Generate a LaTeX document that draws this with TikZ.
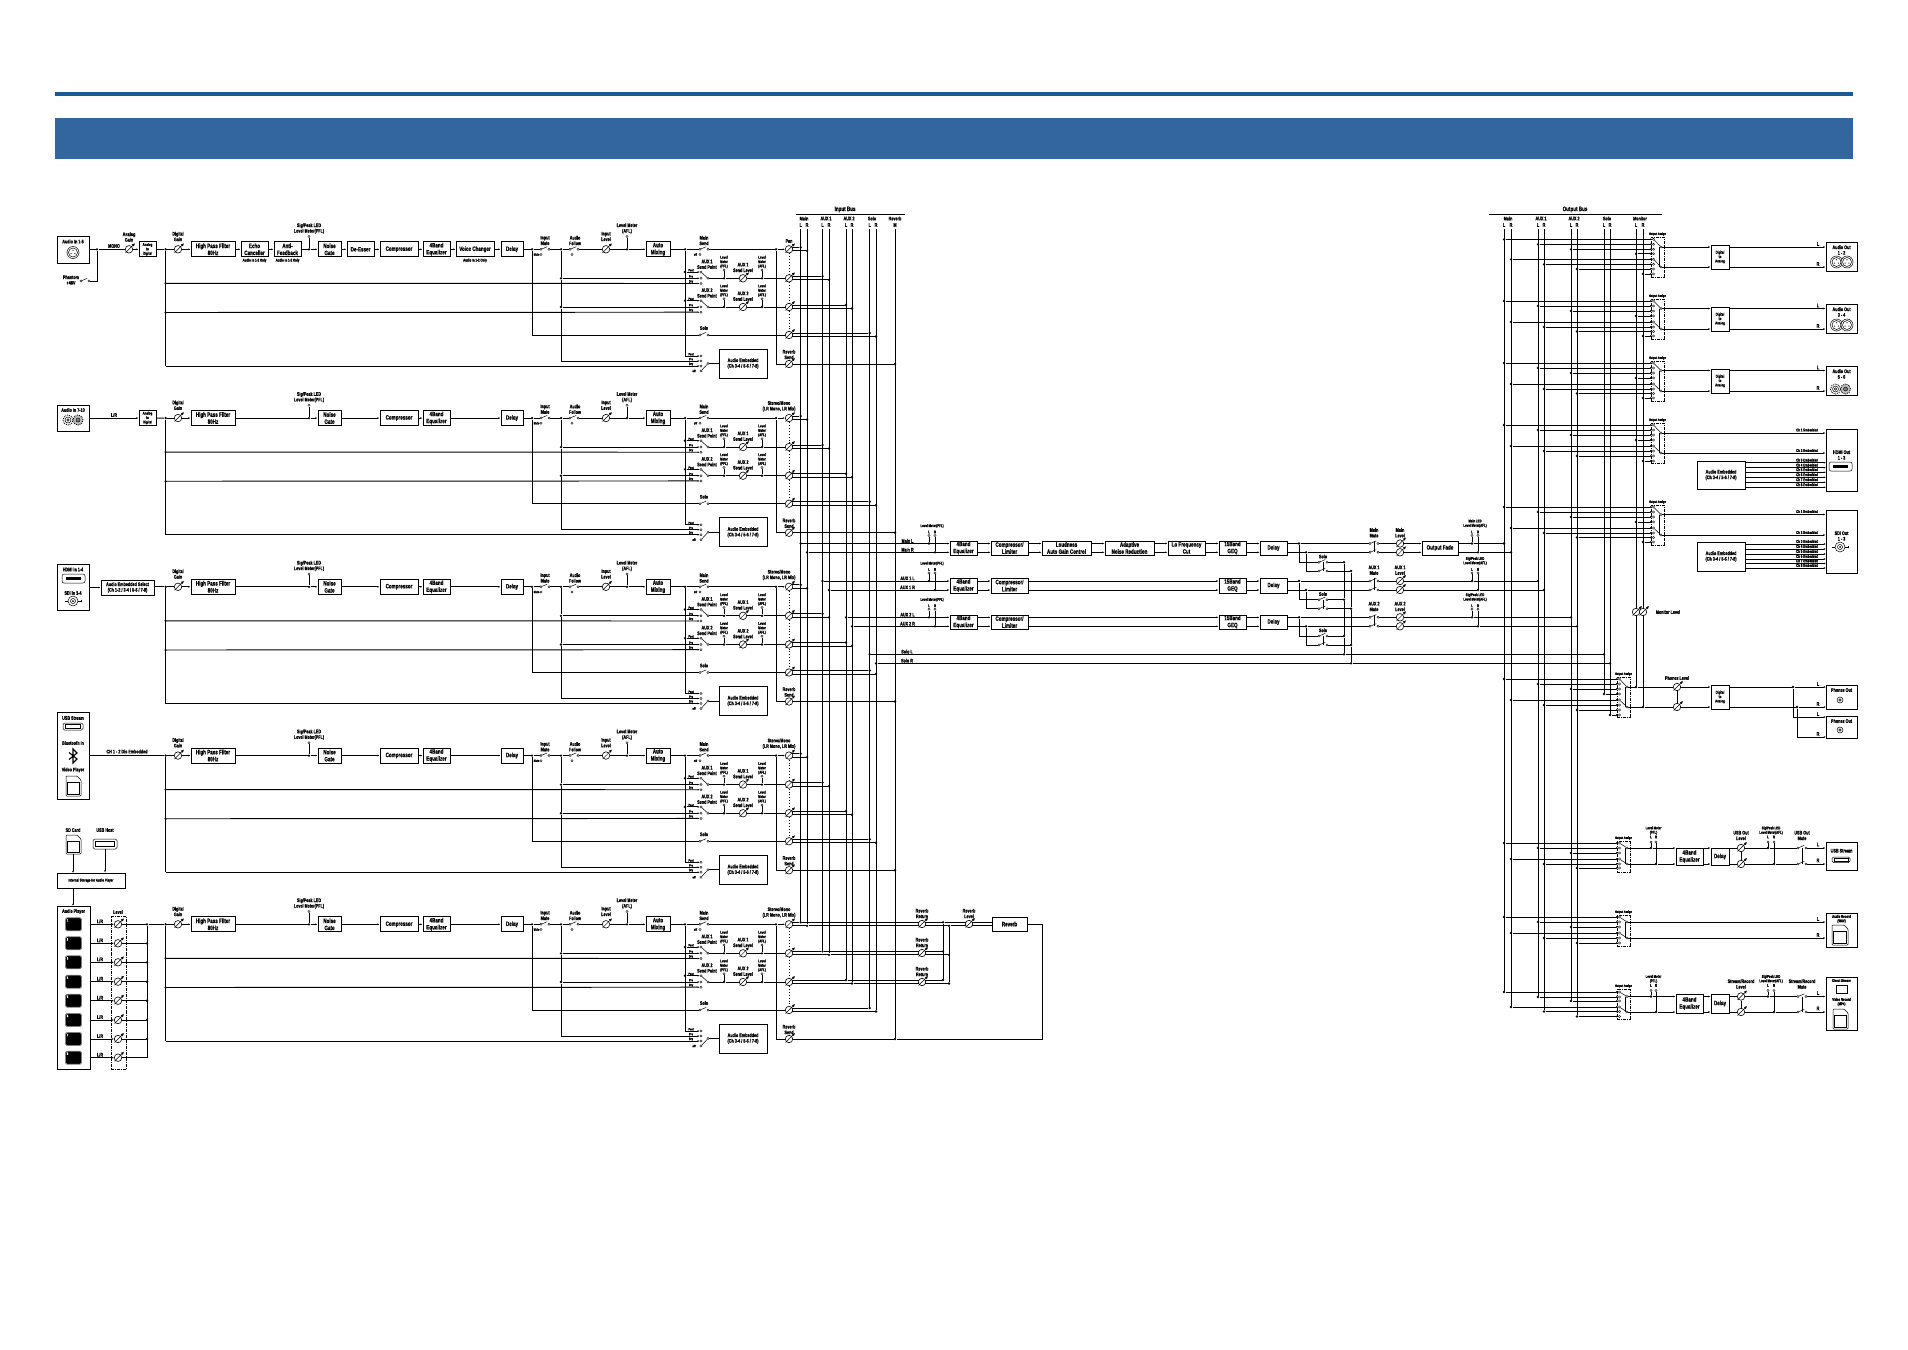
\documentclass[tikz,border=0pt]{standalone}
\usepackage{fontspec}
\setmainfont{Liberation Sans Bold}[FakeStretch=0.72,FakeBold=0.8]
\usetikzlibrary{arrows.meta}
\definecolor{hdrband}{HTML}{33659E}
\definecolor{hdrline}{HTML}{1B5A94}
\newcount\labn
\def\fa{\fontsize{5.2}{5.6}\selectfont}
\def\fb{\fontsize{6.3}{7}\selectfont}
\def\fc{\fontsize{4}{4.4}\selectfont}
\def\fd{\fontsize{3.4}{3.7}\selectfont}
\tikzset{
 wire/.style={line width=.95pt},
 thinw/.style={line width=.5pt},
 arw/.style={wire,-{Latex[length=2.2pt,width=1.8pt]}},
 box/.style={draw,line width=.95pt,fill=white,inner sep=0pt,align=center,font=\fb},
 txt/.style={inner sep=0pt,align=center,font=\fa},
 jdot/.style={circle,fill=black,inner sep=0pt,minimum size=2.6pt},
 term/.style={circle,draw,line width=.4pt,fill=white,inner sep=0pt,minimum size=2.2pt},
 knobc/.style={circle,draw,line width=.6pt,fill=white,inner sep=0pt,minimum size=7.5pt},
 ring/.style={circle,draw,line width=.5pt,fill=white,inner sep=0pt},
 assignbox/.style={draw,line width=.8pt,densely dashdotted,inner sep=0pt},
}
\newcommand\lab[3]{\global\advance\labn by 1 \node[txt] (lab\the\labn) at (#1,#2) {#3};}
\newcommand\labf[4]{\global\advance\labn by 1 \node[txt,font=#1] (lab\the\labn) at (#2,#3) {#4};}
\newcommand\bx[6]{\node[box,minimum width={(#4-#2)*1pt},minimum height={(#5-#3)*1pt}] (#1) at ({(#2+#4)/2},{(#3+#5)/2}) {#6};}
\newcommand\bxf[7]{\node[box,font=#1,minimum width={(#5-#3)*1pt},minimum height={(#6-#4)*1pt}] (#2) at ({(#3+#5)/2},{(#4+#6)/2}) {#7};}
\newcommand\jd[3]{\node[jdot] (#1) at (#2,#3) {};}
\newcommand\tm[3]{\node[term] (#1) at (#2,#3) {};}
\newcommand\knob[3]{\node[knobc] (#1) at (#2,#3) {};
 \draw[line width=.45pt,-{Latex[length=3pt,width=2.8pt]}] ([shift={(-3.4,3.4)}]#1.center) -- ([shift={(6,-6)}]#1.center);}
\newcommand\swt[3]{\tm{#1-l}{#2-4}{#3}\tm{#1-r}{#2+4}{#3}
 \draw[thinw] (#1-l) -- ++(6.2,-2.6);}
\newcommand\meter[4]{\tm{#1}{#2}{#4}\draw[thinw] (#3) -- (#1);}
% --- aux send row of an input strip
\newcommand\auxrow[5]{%
 \pgfmathsetmacro\ya{#3-6.3}\pgfmathsetmacro\yc{#3+5.2}
 \pgfmathsetmacro\yt{#3-8.3}\pgfmathsetmacro\ysp{#3-14}\pgfmathsetmacro\ylm{#3-16.3}\pgfmathsetmacro\ysl{#3-10.8}
 \pgfmathsetmacro\yap{\ya-1.8}\pgfmathsetmacro\ybp{#3-1.8}\pgfmathsetmacro\ycp{\yc-1.8}
 \jd{#1q#2}{685}{\ya}\jd{#1r#2}{561}{#3}
 \tm{#1ta#2}{701}{\ya}\tm{#1tb#2}{701}{#3}\tm{#1tc#2}{701}{\yc}\tm{#1s#2}{708}{#3}
 \draw[thinw] (#1ta#2) -- (#1s#2);
 \draw[arw] (#1q#2) -- (#1ta#2); \draw[arw] (#1r#2) -- (#1tb#2); \draw[arw] (#4) -- (#1tc#2);
 \labf{\fd}{691}{\yap}{Post}\labf{\fd}{691}{\ybp}{Pre}\labf{\fd}{691}{\ycp}{Dry}
 \lab{707}{\ysp}{#5\\Send Point}
 \jd{#1u#2}{724}{#3}\knob{#1v#2}{743}{#3}\jd{#1w#2}{762}{#3}\knob{#1y#2}{789}{#3}
 \draw[wire] (#1s#2) -- (#1u#2) -- (#1v#2) -- (#1w#2) -- (#1y#2);
 \meter{#1mu#2}{724}{#1u#2}{\yt}\meter{#1mw#2}{762}{#1w#2}{\yt}
 \labf{\fc}{724}{\ylm}{Level\\Meter\\(PFL)}\labf{\fc}{762}{\ylm}{Level\\Meter\\(AFL)}
 \lab{743}{\ysl}{#5\\Send Level}
}
\newcommand\busout[5]{%
 \pgfmathsetmacro\yl{#3-2}\pgfmathsetmacro\yr{#3+1.5}
 \jd{#1bL#2}{#4}{\yl}\jd{#1bR#2}{#5}{\yr}
 \coordinate (#1kL#2) at (792,\yl); \coordinate (#1kR#2) at (792,\yr);
 \draw[wire] (#1kL#2) -- (#1bL#2); \draw[wire] (#1kR#2) -- (#1bR#2);
}
% --- input channel strip
\newcommand\strip[3]{%
\begin{scope}[yshift={-168.75pt*#2}]
 \jd{#1a}{165.7}{249.3}\jd{#1b}{165.7}{283.3}\jd{#1c}{165.7}{312.5}\coordinate (#1d) at (165.7,366);
 \draw[wire] (#1a) -- (#1d);
 \knob{#1dg}{178}{249.3}\lab{178}{236.5}{Digital\\Gain}
 \bx{#1hpf}{191}{241.8}{235}{256.8}{High Pass Filter\\80Hz}
 \draw[wire] (#1a) -- (#1dg); \draw[arw] (#1dg) -- (#1hpf);
 \jd{#1fb}{309}{249.3}\meter{#1fbm}{309}{#1fb}{236.5}\lab{309}{228.5}{Sig/Peak LED\\Level Meter(PFL)}
 \bx{#1gate}{318}{241.8}{341}{256.8}{Noise\\Gate}
 \bx{#1comp}{380}{241.8}{418}{256.8}{Compressor}
 \bx{#1eq}{423}{241.8}{450}{256.8}{4Band\\Equalizer}
 \bx{#1delay}{501}{241.8}{523}{256.8}{Delay}
 \ifnum#3=1
  \bx{#1echo}{241}{241.8}{268}{256.8}{Echo\\Canceller}\bx{#1afb}{274}{241.8}{301}{256.8}{Anti-\\Feedback}
  \bx{#1dees}{347}{241.8}{374}{256.8}{De-Esser}\bx{#1vc}{456}{241.8}{494}{256.8}{Voice Changer}
  \labf{\fc}{254.5}{260.5}{Audio In 1-2 Only}\labf{\fc}{287.5}{260.5}{Audio In 1-2 Only}\labf{\fc}{475}{260.5}{Audio In 1-2 Only}
  \draw[arw] (#1hpf) -- (#1echo); \draw[arw] (#1echo) -- (#1afb); \draw[wire] (#1afb) -- (#1fb); \draw[arw] (#1fb) -- (#1gate);
  \draw[arw] (#1gate) -- (#1dees); \draw[arw] (#1dees) -- (#1comp); \draw[arw] (#1comp) -- (#1eq); \draw[arw] (#1eq) -- (#1vc); \draw[arw] (#1vc) -- (#1delay);
  \lab{789}{241}{Pan}
 \else
  \draw[wire] (#1hpf) -- (#1fb); \draw[arw] (#1fb) -- (#1gate); \draw[arw] (#1gate) -- (#1comp); \draw[arw] (#1comp) -- (#1eq); \draw[arw] (#1eq) -- (#1delay);
  \lab{779}{237.5}{Stereo/Mono\\(LR Mono, LR Mix)}
 \fi
 \jd{#1m}{532}{249.3}\swt{#1im}{545}{249.3}\jd{#1n}{561}{249.3}\swt{#1fo}{574}{249.3}
 \knob{#1il}{606}{249.3}\jd{#1lm}{627}{249.3}\bx{#1am}{646}{241.8}{670}{256.8}{Auto\\Mixing}
 \jd{#1o}{685}{249.3}\swt{#1ms}{704}{249.3}\jd{#1p}{776}{249.3}\knob{#1pan}{789}{249.3}
 \draw[wire] (#1delay) -- (#1m) -- (#1im-l); \draw[wire] (#1im-r) -- (#1n) -- (#1fo-l);
 \draw[wire] (#1fo-r) -- (#1il) -- (#1lm); \draw[arw] (#1lm) -- (#1am);
 \draw[wire] (#1am) -- (#1o) -- (#1ms-l); \draw[wire] (#1ms-r) -- (#1p); \draw[arw] (#1p) -- (#1pan);
 \lab{545}{240.5}{Input\\Mute}\lab{575}{240.5}{Audio\\Follow}\lab{606}{236.5}{Input\\Level}
 \meter{#1lmt}{627}{#1lm}{236.5}\lab{627}{228.5}{Level Meter\\(AFL)}\lab{704}{240.5}{Main\\Send}
 \tm{#1imo}{541}{254.5}\labf{\fd}{536.5}{254.5}{Mute}\tm{#1foo}{572}{254.5}\tm{#1mso}{700}{254.5}\labf{\fd}{695.5}{254.5}{off}
 \auxrow{#1}{1}{278.3}{#1b}{AUX 1}
 \auxrow{#1}{2}{307}{#1c}{AUX 2}
 \busout{#1}{0}{249.3}{800.7}{807}
 \busout{#1}{1}{278.3}{822.5}{829}
 \busout{#1}{2}{307}{846}{852}
 \swt{#1so}{704}{335}\knob{#1y3}{789}{335}\lab{704}{328}{Solo}
 \busout{#1}{3}{335}{869.7}{876}
 \draw[wire] (#1m) |- (#1so-l); \draw[wire] (#1so-r) -- (#1y3);
 \draw[line width=.9pt,dotted] (#1pan) -- (#1y1) -- (#1y2) -- (#1y3);
 \draw[wire] (#1n) -- (#1r1) -- (#1r2);
 \draw[wire] (#1o) -- (#1q1) -- (#1q2);
 % audio embedded row
 \bxf{\fa}{#1ae}{719}{349}{767}{378}{Audio Embedded\\(Ch 3-4 / 5-6 / 7-8)}
 \tm{#1ea}{701}{356}\tm{#1eb}{701}{361}\tm{#1ec}{701}{366}\tm{#1ed}{701}{371}\tm{#1es}{708}{363.5}
 \draw[thinw] (#1ed) -- (#1es); \draw[wire] (#1es) -- (#1ae);
 \draw[arw] (#1o) |- (#1ea); \draw[arw] (#1r2) |- (#1eb); \draw[arw] (#1d) -- (#1ec);
 \labf{\fd}{691}{354.2}{Post}\labf{\fd}{691}{359.2}{Pre}\labf{\fd}{691}{364.2}{Dry}\labf{\fd}{694}{371}{off}
 % reverb send
 \knob{#1rs}{789}{364}\jd{#1rb}{895}{364}\lab{789}{354.5}{Reverb\\Send}
 \draw[wire] (#1p) |- (#1rs); \draw[wire] (#1rs) -- (#1rb);
\end{scope}}
% --- horizontal stereo wires between boxes
\newcommand\lrw[3]{\draw[arw] (#1.east |- 0,#3) -- (#2.west |- 0,#3);}
% --- output section row
\newcommand\midrow[9]{%
 \pgfmathsetmacro\ytp{#2-8}\pgfmathsetmacro\ylr{#2-11.5}\pgfmathsetmacro\yml{#2-17.5}
 \pgfmathsetmacro\ysa{#2+18.7}\pgfmathsetmacro\ysb{#3+18.7}\pgfmathsetmacro\ysl{#2+13}
 \pgfmathsetmacro\yb{#2-10.8}\pgfmathsetmacro\yna{#2-2.6}\pgfmathsetmacro\ynb{#3-2.6}
 \jd{#1sL}{#6}{#2}\jd{#1sR}{#7}{#3}
 \lab{907.5}{\yna}{#9 L}\lab{907.5}{\ynb}{#9 R}
 \jd{#1mL}{929}{#2}\jd{#1mR}{935}{#3}
 \meter{#1mtL}{929}{#1mL}{\ytp}\meter{#1mtR}{935}{#1mR}{\ytp}
 \labf{\fc}{929}{\ylr}{L}\labf{\fc}{935}{\ylr}{R}\labf{\fc}{932}{\yml}{Level Meter(PFL)}
 \bx{#1eq}{950}{#4}{977}{#5}{4Band\\Equalizer}\bx{#1co}{991}{#4}{1028}{#5}{Compressor/\\Limiter}
 \bx{#1ge}{1219}{#4}{1246}{#5}{15Band\\GEQ}\bx{#1dl}{1260}{#4}{1287}{#5}{Delay}
 \draw[arw] (#1sL) -- (#1eq.west |- 0,#2); \draw[arw] (#1sR) -- (#1eq.west |- 0,#3);
 \lrw{#1eq}{#1co}{#2}\lrw{#1eq}{#1co}{#3}\lrw{#1ge}{#1dl}{#2}\lrw{#1ge}{#1dl}{#3}
 \ifx#8x\lrw{#1co}{#1ge}{#2}\lrw{#1co}{#1ge}{#3}\else
  \bx{#1ld}{1042}{#4}{1091}{#5}{Loudness\\Auto Gain Control}\bx{#1nr}{1105}{#4}{1154}{#5}{Adaptive\\Noise Reduction}\bx{#1lf}{1168}{#4}{1205}{#5}{Lo Frequency\\Cut}
  \lrw{#1co}{#1ld}{#2}\lrw{#1co}{#1ld}{#3}\lrw{#1ld}{#1nr}{#2}\lrw{#1ld}{#1nr}{#3}\lrw{#1nr}{#1lf}{#2}\lrw{#1nr}{#1lf}{#3}\lrw{#1lf}{#1ge}{#2}\lrw{#1lf}{#1ge}{#3}
 \fi
 \jd{#1jL}{1299}{#2}\jd{#1jR}{1306}{#3}
 \swt{#1muL}{1374}{#2}\swt{#1muR}{1374}{#3}\draw[thinw] (1374,\yna) -- (1374,#3);
 \knob{#1kL}{1400}{#2}\knob{#1kR}{1400}{#3}
 \draw[wire] (#1dl.east |- 0,#2) -- (#1jL) -- (#1muL-l); \draw[wire] (#1dl.east |- 0,#3) -- (#1jR) -- (#1muR-l);
 \draw[wire] (#1muL-r) -- (#1kL); \draw[wire] (#1muR-r) -- (#1kR);
 \lab{1374}{\yb}{#9\\Mute}\lab{1400}{\yb}{#9\\Level}
 \lab{1323}{\ysl}{Solo}
 \swt{#1saL}{1323}{\ysa}\swt{#1saR}{1323}{\ysb}\draw[thinw] (1323,\ysa) -- (1323,\ysb);
 \jd{#1vL}{1344}{\ysa}\jd{#1vR}{1351}{\ysb}
 \draw[wire] (#1jL) |- (#1saL-l); \draw[wire] (#1jR) |- (#1saR-l);
 \draw[wire] (#1saL-r) -- (#1vL); \draw[wire] (#1saR-r) -- (#1vR);
}
\newcommand\metout[9]{%
 \pgfmathsetmacro\ytp{#2-8}\pgfmathsetmacro\ylr{#2-11.5}\pgfmathsetmacro\yml{#2-20}
 \jd{#1aL}{1472}{#2}\jd{#1aR}{1478}{#3}\jd{#1oL}{#4}{#2}\jd{#1oR}{#5}{#3}
 \meter{#1atL}{1472}{#1aL}{\ytp}\meter{#1atR}{1478}{#1aR}{\ytp}
 \labf{\fc}{1472}{\ylr}{L}\labf{\fc}{1478}{\ylr}{R}
 \labf{\fc}{1475}{\yml}{#6\\Level Meter(AFL)}
 \draw[wire] (#7) -- (#1aL) -- (#1oL); \draw[wire] (#8) -- (#1aR) -- (#1oR);
}
% --- output assign selector
\newcommand\asg[8]{%
 \pgfmathsetmacro\xa{#2+2.5}\pgfmathsetmacro\xb{#2+10}\pgfmathsetmacro\xc{#2+8}
 \pgfmathsetmacro\ylb{#3-3}
 \node[assignbox,minimum width=13pt,minimum height={(#4-#3)*1pt}] (#1box) at ({#2+6.5},{(#3+#4)/2}) {};
 \labf{\fd}{#2+6.5}{\ylb}{Output Assign}
 \foreach \bxx/\ry [count=\ci] in {#7}{
  \jd{#1d\ci}{\bxx}{\ry}\tm{#1t\ci}{\xa}{\ry}
  \draw[arw] (#1d\ci) -- (#1t\ci);
 }
 \tm{#1oa}{\xb}{#5}\tm{#1ob}{\xb}{#6}
 \draw[thinw] (#1t1) -- (#1oa); \draw[thinw] (#1t#8) -- (#1ob);
 \draw[thinw] (\xc,#5) -- (\xc,#6);
}
% --- connectors and icons
\newcommand\xlrc[3]{\node[ring,minimum size=12pt] (#1) at (#2,#3) {};
 \node[ring,minimum size=9pt] (#1i) at (#2,#3) {};
 \foreach \ang in {90,210,330}{\fill (#1.center) ++(\ang:-2.2) circle (.6);}}
\newcommand\rcac[3]{\node[ring,minimum size=10pt,line width=.9pt,densely dotted] (#1) at (#2,#3) {};
 \node[ring,minimum size=6pt] (#1i) at (#2,#3) {};\node[ring,minimum size=2.5pt] (#1j) at (#2,#3) {};}
\newcommand\rcad[3]{\node[ring,minimum size=10pt,fill=gray!50,line width=.9pt,densely dotted] (#1) at (#2,#3) {};
 \node[ring,minimum size=4pt,fill=gray] (#1i) at (#2,#3) {};}
\newcommand\bnc[3]{\node[ring,minimum size=10pt] (#1) at (#2,#3) {};\node[ring,minimum size=5pt] (#1i) at (#2,#3) {};
 \node[circle,fill=black,inner sep=0pt,minimum size=2pt] (#1j) at (#2,#3) {};
 \draw[thinw] (#1.east) -- ++(3,0) ++(0,-1) rectangle ++(0,2);\draw[thinw] (#1.west) -- ++(-3,0);}
\newcommand\hdmi[5]{\node[draw,line width=.5pt,rounded corners=2pt,minimum width={(#4-#2)*1pt},minimum height={(#5-#3)*1pt},inner sep=0pt] (#1) at ({(#2+#4)/2},{(#3+#5)/2}) {};
 \node[fill=black,minimum width={(#4-#2)*.68pt},minimum height={(#5-#3)*.38pt},inner sep=0pt] (#1i) at (#1.center) {};}
\newcommand\usbc[5]{\node[draw,line width=.5pt,rounded corners=1.5pt,minimum width={(#4-#2)*1pt},minimum height={(#5-#3)*1pt},inner sep=0pt] (#1) at ({(#2+#4)/2},{(#3+#5)/2}) {};
 \node[draw,line width=.7pt,fill=white,minimum width={(#4-#2)*.78pt},minimum height={(#5-#3)*.5pt},inner sep=0pt] (#1i) at (#1.center) {};}
\newcommand\sdcard[4]{\draw[thinw,rounded corners=.8pt] (#1,#2) -- ({#3-4},#2) -- (#3,{#2+4}) -- (#3,#4) -- (#1,#4) -- cycle;
 \draw[line width=.6pt] ({#1+1.5},{#2+6.5}) rectangle ({#3-1.5},{#4-2});}
\newcommand\playbtn[3]{\node[draw=gray,fill=black,line width=.8pt,rounded corners=1.5pt,minimum width=16pt,minimum height=13pt,inner sep=0pt] (#1) at (73.5,#2) {};
 \node[text=white,font=\fd,inner sep=0pt] (#1n) at (67.5,{#2-4}) {#3};}
% --- usb / record output rows
\newcommand\dsprow[9]{%
 \pgfmathsetmacro\ytp{#2-6}\pgfmathsetmacro\ylr{#2-11}\pgfmathsetmacro\yml{#2-17.5}\pgfmathsetmacro\ylv{#2-12.5}
 \jd{#1mL}{1651}{#2}\jd{#1mR}{1656}{#3}\meter{#1mtL}{1651}{#1mL}{\ytp}\meter{#1mtR}{1656}{#1mR}{\ytp}
 \labf{\fc}{1651}{\ylr}{L}\labf{\fc}{1656}{\ylr}{R}\labf{\fc}{1653.5}{\yml}{Level Meter\\(PFL)}
 \bx{#1eq}{1676}{#4}{1703}{#5}{4Band\\Equalizer}\bx{#1dl}{1711}{#4}{1729}{#5}{Delay}
 \draw[wire] (#1oa) -- (#1mL); \draw[wire] (#1ob) -- (#1mR);
 \draw[arw] (#1mL) -- (#1eq.west |- 0,#2); \draw[arw] (#1mR) -- (#1eq.west |- 0,#3);
 \lrw{#1eq}{#1dl}{#2}\lrw{#1eq}{#1dl}{#3}
 \knob{#1kL}{1741}{#2}\knob{#1kR}{1741}{#3}\draw[thinw] (#1kL) -- (#1kR);
 \jd{#1sL}{1768}{#2}\jd{#1sR}{1774}{#3}\meter{#1stL}{1768}{#1sL}{\ytp}\meter{#1stR}{1774}{#1sR}{\ytp}
 \labf{\fc}{1768}{\ylr}{L}\labf{\fc}{1774}{\ylr}{R}\labf{\fc}{1771}{\yml}{Sig/Peak LED\\Level Meter(AFL)}
 \lab{1741}{\ylv}{#6\\Level}\lab{1802}{\ylv}{#6\\Mute}
 \swt{#1muL}{1802}{#2}\swt{#1muR}{1802}{#3}\draw[thinw] (1802,#2) -- (1802,#3);
 \draw[wire] (#1dl.east |- 0,#2) -- (#1kL); \draw[wire] (#1dl.east |- 0,#3) -- (#1kR);
 \draw[wire] (#1kL) -- (#1sL) -- (#1muL-l); \draw[wire] (#1kR) -- (#1sR) -- (#1muR-l);
 \draw[arw] (#1muL-r) -- (#7.west |- 0,#2); \draw[arw] (#1muR-r) -- (#7.west |- 0,#3);
 \pgfmathsetmacro\yla{#2-3.5}\pgfmathsetmacro\ylb{#3-3.5}
 \lab{1818}{\yla}{L}\lab{1818}{\ylb}{R}
}
\newcommand\daout[8]{% P top bot out-box label
 \bxf{\fc}{#1da}{1711}{#2}{1729}{#3}{Digital\\to\\Analog}
 \draw[arw] (#1oa) -- (#1da.west |- #1oa); \draw[arw] (#1ob) -- (#1da.west |- #1ob);
 \draw[arw] (#1da.east |- #1oa) -- (#4.west |- #1oa); \draw[arw] (#1da.east |- #1ob) -- (#4.west |- #1ob);
 \pgfmathsetmacro\yla{#5-3}\pgfmathsetmacro\ylb{#6-3}
 \lab{1818}{\yla}{#7}\lab{1818}{\ylb}{#8}
}
\newcommand\embrow[7]{% out-box, x,  y list via args
 \foreach \ey/\en in {#2/3,#3/4,#4/5,#5/6,#6/7,#7/8}{
  \pgfmathsetmacro\elab{\ey-2.6}
  \lab{1807}{\elab}{\fc Ch \en\ Embedded}
  \draw[arw] (#1.east |- 0,\ey) -- (1826,\ey);
 }
}
\begin{document}
\begin{tikzpicture}[x=1pt,y=-1pt]
\useasboundingbox (0,0) rectangle (1908,1349);
% header
\coordinate (hl1) at (55,94); \coordinate (hl2) at (1853,94);
\draw[hdrline,line width=3.4pt] (hl1) -- (hl2);
\node[fill=hdrband,inner sep=0pt,minimum width=1798pt,minimum height=41pt] (band) at (954,138.5) {};
% ---------- input strips
\strip{a}{0}{1}
\strip{b}{1}{0}
\strip{c}{2}{0}
\strip{d}{3}{0}
\strip{e}{4}{0}
% input 1
\bx{ia}{57}{236.5}{89}{263}{}
\lab{73}{241.5}{Audio In 1-6}\xlrc{iax}{73}{252.5}
\jd{ph}{97}{249.3}\knob{agk}{129}{249.3}\bxf{\fc}{ad1}{139}{241.8}{156}{256.8}{Analog\\to\\Digital}
\draw[wire] (ia.east |- ph) -- (ph) -- (agk); \draw[arw] (agk) -- (ad1); \draw[wire] (ad1) -- (aa);
\lab{114}{246}{MONO}\lab{129}{237}{Analog\\Gain}
\swt{phs}{85}{281}\lab{71}{280}{Phantom\\+48V}\draw[wire] (phs-r) -| (ph);
% input 2
\bx{ib}{57}{405}{89}{431}{}
\lab{73}{410}{Audio In 7-10}\rcac{ibr}{68}{420}\rcad{ibs}{78}{420}
\bxf{\fc}{ad2}{139}{410.5}{156}{425.5}{Analog\\to\\Digital}
\lab{114}{415}{L/R}
\draw[arw] (ib.east |- ad2) -- (ad2); \draw[wire] (ad2) -- (ba);
% input 3
\bx{ic}{57}{564}{89}{610}{}
\lab{73}{569.5}{HDMI In 1-4}\hdmi{ich}{62}{574}{85}{583}\lab{73}{593}{SDI In 1-4}\bnc{ics}{73}{601}
\bxf{\fa}{sel}{101}{580}{154}{595}{Audio Embedded Select\\(Ch 1-2 / 3-4 / 5-6 / 7-8)}
\draw[arw] (ic.east |- sel) -- (sel); \draw[wire] (sel.east |- ca) -- (ca);
% input 4
\bx{id}{57}{712}{89}{799}{}
\lab{73}{718}{USB Stream}\usbc{idu}{63}{723}{83}{730}\lab{73}{743}{Bluetooth In}
\coordinate (bt1) at (69,752.5); \draw[line width=1.1pt] (bt1) -- (77,759) -- (73,763) -- (73,749) -- (77,753) -- (69,759.5);
\lab{73}{770}{Video Player}\sdcard{66}{776}{81}{796}
\lab{127}{751.5}{CH 1 - 2 Dis Embedded}
\draw[wire] (id.east |- da) -- (da);
% input 5
\lab{73}{830}{SD Card}\lab{105}{830}{USB Host}
\sdcard{66}{835}{81}{854}\usbc{iehost}{93}{839}{117}{849}
\bxf{\fc}{store}{57}{873}{125}{888}{Internal Storage for Audio Player}
\coordinate (sdb) at (73,854);\coordinate (sdt) at (73,873);
\draw[arw] (sdb) -- (sdt); \draw[arw] (iehost.south) -- (iehost.south |- store.north);
\bx{ie}{57}{906}{90}{1069}{}\lab{73.5}{911.5}{Audio Player}
\coordinate (stb) at (73,888);\coordinate (ieb) at (73,906); \draw[arw] (stb) -- (ieb);
\node[assignbox,minimum width=15pt,minimum height=153pt] (lvbox) at (118.5,992.5) {};
\lab{118}{912}{Level}
\foreach \py [count=\pi] in {924.3,943.3,962.3,981.7,1000.7,1020,1039,1057.7}{
 \playbtn{pb\pi}{\py}{\pi}
 \knob{pk\pi}{118}{\py}
 \pgfmathsetmacro\pyl{\py-3}
 \lab{100}{\pyl}{L/R}
 \draw[arw] (ie.east |- pk\pi) -- (pk\pi);
}
\jd{pj1}{147}{924.3}\jd{pj2}{147}{943.3}\jd{pj3}{147}{962.3}\jd{pj4}{147}{981.7}\jd{pj5}{147}{1000.7}\jd{pj6}{147}{1020}\jd{pj7}{147}{1039}\coordinate (pj8) at (147,1057.7);
\draw[wire] (pk1) -- (pj1) -- (ea);
\foreach \pi in {2,...,7}{\draw[wire] (pk\pi) -- (pj\pi);}
\draw[wire] (pk8) -- (pj8) -- (pj1);
% ---------- input bus
\coordinate (ibl1) at (796,214.5); \coordinate (ibl2) at (905,214.5);
\draw[wire] (ibl1) -- (ibl2);
\labf{\fb}{845}{209.5}{Input Bus}
\lab{804}{218.5}{Main}\lab{826}{218.5}{AUX 1}\lab{849}{218.5}{AUX 2}\lab{872}{218.5}{Solo}\lab{895}{218.5}{Reverb}
\foreach \bn/\bt/\bxp in {L0/L/800.7,R0/R/807,L1/L/822.5,R1/R/829,L2/L/846,R2/R/852,L3/L/869.7,R3/R/876}{
 \lab{\bxp}{225}{\bt}
 \coordinate (ibt\bn) at (\bxp,229);
 \draw[wire] (ibt\bn) -- (eb\bn);
}
\lab{895}{225}{M}\coordinate (ibtM) at (895,229); \draw[wire] (ibtM) -- (erb);
% ---------- reverb return
\knob{rr0}{922}{924}\knob{rr1}{922}{953}\knob{rr2}{922}{982}
\lab{922}{913.5}{Reverb\\Return}\lab{922}{942.5}{Reverb\\Return}\lab{922}{971.5}{Reverb\\Return}
\foreach \ri/\rl/\rr in {0/922.3/925.8,1/951.3/954.8,2/980/983.5}{
 \coordinate (ra\ri) at (919,\rl); \coordinate (rb\ri) at (919,\rr);
 \jd{rl\ri}{943}{\rl}\jd{rs\ri}{949}{\rr}
 \coordinate (rc\ri) at (925,\rl); \coordinate (rd\ri) at (925,\rr);
 \draw[wire] (ebL\ri) -- (ra\ri); \draw[wire] (ebR\ri) -- (rb\ri);
 \draw[wire] (rc\ri) -- (rl\ri); \draw[wire] (rd\ri) -- (rs\ri);
}
\draw[wire] (rl0) -- (rl2); \draw[wire] (rs0) -- (rs2);
\knob{rvk}{969}{924}\lab{969}{913.5}{Reverb\\Level}
\bx{rvb}{992}{917}{1027}{931}{Reverb}
\coordinate (rvka) at (966,922.3); \coordinate (rvkb) at (966,925.8);
\coordinate (rvkc) at (972,922.3); \coordinate (rvkd) at (972,925.8);
\draw[wire] (rl0) -- (rvka); \draw[wire] (rs0) -- (rvkb);
\draw[wire] (rvkc) -- (rvb.west |- rvkc); \draw[wire] (rvkd) -- (rvb.west |- rvkd);
\coordinate (rvc) at (1042,924); \coordinate (rvd) at (1042,1039);
\draw[wire] (rvb) -- (rvc) -- (rvd) -- (erb);
% ---------- output section rows
\midrow{m}{543.5}{552.3}{541}{555}{800.7}{807}{y}{Main}
\midrow{u}{581}{590}{578}{593}{822.5}{829}{x}{AUX 1}
\midrow{v}{617.3}{626.3}{615}{629}{846}{852}{x}{AUX 2}
\bx{mof}{1422}{541}{1458}{555}{Output Fade}
\coordinate (ofiL) at (1403,543.5); \coordinate (ofiR) at (1403,552.3);
\draw[arw] (ofiL) -- (mof.west |- ofiL); \draw[arw] (ofiR) -- (mof.west |- ofiR);
\coordinate (ofoL) at (1458,543.5); \coordinate (ofoR) at (1458,552.3);
\metout{m}{543.5}{552.3}{1504}{1511}{Main LED}{ofoL}{ofoR}{}
\metout{u}{581}{590}{1538}{1544}{Sig/Peak LED}{ukL}{ukR}{}
\metout{v}{617.3}{626.3}{1571}{1577}{Sig/Peak LED}{vkL}{vkR}{}
% solo bus
\jd{ssL}{869.7}{654.3}\jd{ssR}{876}{663.3}\jd{ssvL}{1344}{654.3}\jd{ssvR}{1351}{663.3}\jd{soL}{1604}{654.3}\jd{soR}{1610}{663.3}
\draw[wire] (ssL) -- (ssvL) -- (soL); \draw[wire] (ssR) -- (ssvR) -- (soR);
\lab{907}{651.6}{Solo L}\lab{907}{660.6}{Solo R}
\draw[wire] (mvL) -- (uvL) -- (vvL) -- (ssvL);
\draw[wire] (mvR) -- (uvR) -- (vvR) -- (ssvR);
% ---------- output bus
\coordinate (obl1) at (1489,214.5); \coordinate (obl2) at (1662,214.5);
\draw[wire] (obl1) -- (obl2);
\labf{\fb}{1575}{209.5}{Output Bus}
\lab{1508}{218.5}{Main}\lab{1541}{218.5}{AUX 1}\lab{1574}{218.5}{AUX 2}\lab{1607}{218.5}{Solo}\lab{1640}{218.5}{Monitor}
\foreach \ox/\ot/\oi in {1504/L/a,1511/R/b,1538/L/c,1544/R/d,1571/L/e,1577/R/f,1604/L/g,1610/R/h,1636/L/i,1643/R/j}{
 \lab{\ox}{225}{\ot}\coordinate (obt\oi) at (\ox,229);
}
% output devices
\bx{oa}{1826}{242}{1857}{271}{}\lab{1841.5}{250}{Audio Out\\1 - 2}\xlrc{oa1}{1836.5}{262}\xlrc{oa2}{1847}{262}
\bx{ob}{1826}{304}{1857}{333}{}\lab{1841.5}{312}{Audio Out\\3 - 4}\xlrc{ob1}{1836.5}{325}\xlrc{ob2}{1847}{325}
\bx{oc}{1826}{366}{1857}{395}{}\lab{1841.5}{374}{Audio Out\\5 - 6}\rcac{oc1}{1835.5}{389}\rcad{oc2}{1845.5}{389}
\bx{od}{1826}{429}{1857}{491}{}\lab{1841.5}{455}{HDMI Out\\1 - 3}\hdmi{odh}{1829}{462}{1852}{471}
\bx{oe}{1826}{510}{1857}{573}{}\lab{1841.5}{536}{SDI Out\\1 - 3}\bnc{oeb}{1840}{547}
\bx{of}{1826}{685}{1857}{709}{}\lab{1841.5}{690}{Phones Out}\node[ring,minimum size=6pt] (ofi) at (1840,700) {};\node[ring,minimum size=2.5pt] (ofj) at (1840,700) {};
\bx{og}{1826}{716}{1857}{738}{}\lab{1841.5}{721}{Phones Out}\node[ring,minimum size=6pt] (ogi) at (1840,730) {};\node[ring,minimum size=2.5pt] (ogj) at (1840,730) {};
\bx{oh}{1826}{842}{1857}{870}{}\lab{1841.5}{850.7}{USB Stream}\usbc{ohu}{1832}{857}{1850}{862.5}
\bx{oi}{1826}{913}{1857}{947}{}\labf{\fc}{1841.5}{919}{Audio Record\\(WAV)}\sdcard{1832}{925}{1848}{945}
\bx{oj}{1826}{977}{1857}{1030}{}\labf{\fc}{1841.5}{980.5}{Direct Stream}\node[draw,line width=.7pt,minimum width=11pt,minimum height=8pt,inner sep=0pt] (ojd) at (1841.5,989) {};
\labf{\fc}{1841.5}{1002}{Video Record\\(MP4)}\sdcard{1833}{1009}{1848}{1029}
% assign selectors
\asg{ga}{1651}{237}{277}{247}{267}{1504/239.3,1538/244.3,1571/249.3,1636/253.8,1511/259.3,1544/264.3,1577/269,1643/274}{5}
\asg{gb}{1651}{299}{339}{308.5}{329}{1504/301,1538/306,1571/311,1636/316,1511/322,1544/327,1577/331.5,1643/336}{5}
\asg{gc}{1651}{361}{401}{370.5}{391}{1504/363,1538/368,1571/373,1636/378,1511/384,1544/389,1577/393.5,1643/398}{5}
\asg{gd}{1651}{423}{463}{433}{453}{1504/425,1538/430,1571/435,1636/440,1511/446,1544/451,1577/456,1643/461}{5}
\asg{ge}{1651}{505}{545}{514.5}{535}{1504/507,1538/512,1571/517,1636/522,1511/528,1544/533,1577/537.5,1643/542}{5}
\asg{gf}{1617}{677}{717}{687}{707}{1504/679,1538/684,1571/689,1604/694,1511/700,1544/705,1577/710,1610/715}{5}
\asg{gg}{1617}{841}{872}{848}{864}{1504/843,1538/848,1571/853,1511/859,1544/864,1577/868}{4}
\asg{gh}{1617}{915}{946}{922}{938}{1504/917,1538/922,1571/927,1511/933,1544/938,1577/943}{4}
\asg{gi}{1617}{989}{1019}{996.5}{1012}{1504/992,1538/997,1571/1001,1511/1007,1544/1011.5,1577/1016.5}{4}
% bus verticals
\draw[wire] (obta) -- (gid1); \draw[wire] (obtb) -- (gid4); \draw[wire] (obtc) -- (gid2);
\draw[wire] (obtd) -- (gid5); \draw[wire] (obte) -- (gid3); \draw[wire] (obtf) -- (gid6);
\draw[wire] (obtg) -- (gfd4); \draw[wire] (obth) -- (gfd8);
\jd{mdL}{1636}{687}\jd{mdR}{1643}{707}
\draw[wire] (obti) -- (mdL); \draw[wire] (obtj) -- (mdR);
\knob{mona}{1636}{612}\knob{monb}{1643}{612}\lab{1668}{612}{Monitor Level}
% analog outs
\daout{ga}{245}{269}{oa}{247}{267}{L}{R}
\daout{gb}{307}{331}{ob}{308.5}{329}{L}{R}
\daout{gc}{369}{393}{oc}{370.5}{391}{L}{R}
% hdmi / sdi
\draw[arw] (gdoa) -- (od.west |- gdoa); \draw[arw] (gdob) -- (od.west |- gdob);
\lab{1807}{430}{\fc Ch 1 Embedded}\lab{1807}{450.5}{\fc Ch 2 Embedded}
\bxf{\fa}{hae}{1697}{461}{1745}{489}{Audio Embedded\\(Ch 3-4 / 5-6 / 7-8)}
\embrow{hae}{462.7}{467.7}{472.3}{477.3}{482.3}{487.3}
\draw[arw] (geoa) -- (oe.west |- geoa); \draw[arw] (geob) -- (oe.west |- geob);
\lab{1807}{511.5}{\fc Ch 1 Embedded}\lab{1807}{532.5}{\fc Ch 2 Embedded}
\bxf{\fa}{sae}{1697}{542}{1745}{571}{Audio Embedded\\(Ch 3-4 / 5-6 / 7-8)}
\embrow{sae}{544}{549}{554}{559}{563.5}{568}
% phones
\knob{phk1}{1677}{687}\knob{phk2}{1677}{707}\draw[thinw] (phk1) -- (phk2);\lab{1677}{678}{Phones Level}
\bxf{\fc}{phda}{1711}{685}{1729}{709}{Digital\\to\\Analog}
\draw[wire] (gfoa) -- (mdL) -- (phk1); \draw[wire] (gfob) -- (mdR) -- (phk2);
\draw[arw] (phk1) -- (phda.west |- phk1); \draw[arw] (phk2) -- (phda.west |- phk2);
\jd{phj1}{1793}{687}\jd{phj2}{1797}{707}
\draw[wire] (phda.east |- phj1) -- (phj1); \draw[wire] (phda.east |- phj2) -- (phj2);
\coordinate (phe1) at (1826,687); \coordinate (phe2) at (1826,707); \coordinate (phe3) at (1826,717); \coordinate (phe4) at (1826,737);
\draw[arw] (phj1) -- (phe1); \draw[arw] (phj2) -- (phe2); \draw[arw] (phj1) |- (phe3); \draw[arw] (phj2) |- (phe4);
\lab{1818}{684}{L}\lab{1818}{704}{R}\lab{1818}{714}{L}\lab{1818}{734}{R}
% usb / record
\dsprow{gg}{848}{864}{848}{865}{USB Out}{oh}{}{}
\draw[arw] (ghoa) -- (oi.west |- ghoa); \draw[arw] (ghob) -- (oi.west |- ghob);
\lab{1818}{919}{L}\lab{1818}{935}{R}
\dsprow{gi}{996.5}{1012}{994}{1013}{Stream/Record}{oj}{}{}
\end{tikzpicture}
\end{document}
